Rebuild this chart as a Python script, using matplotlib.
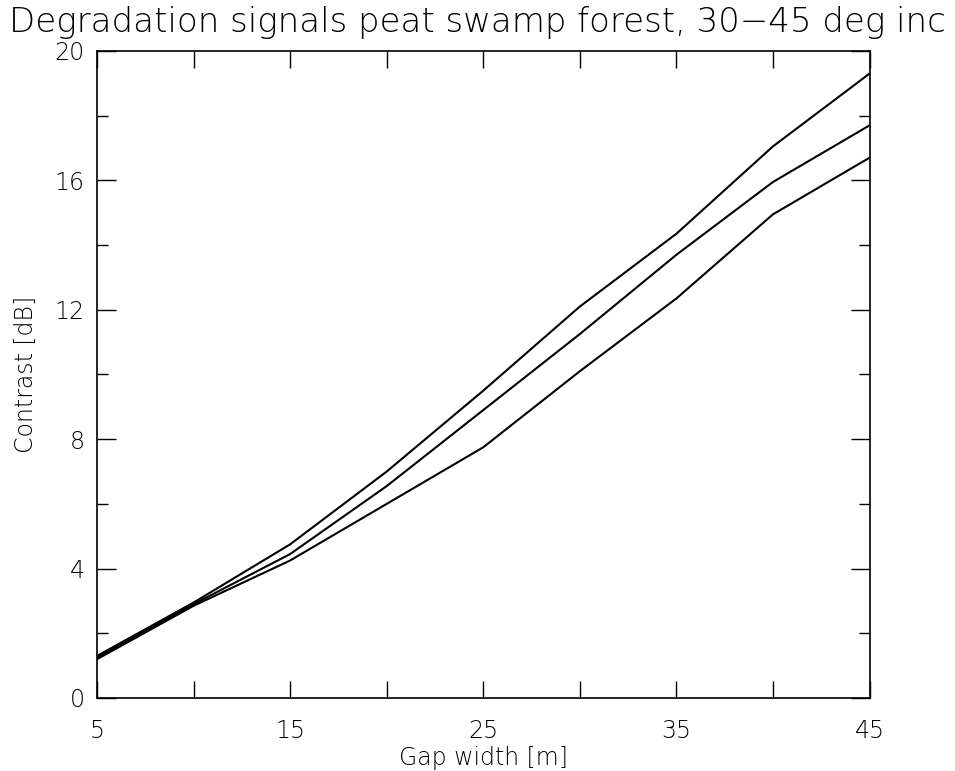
import matplotlib
matplotlib.use("Agg")
import matplotlib.pyplot as plt
from matplotlib.ticker import MultipleLocator, FixedLocator

gap_width = [5, 10, 15, 20, 25, 30, 35, 40, 45]
contrast_high = [1.30, 2.95, 4.75, 7.00, 9.50, 12.10, 14.35, 17.05, 19.30]
contrast_mid = [1.25, 2.90, 4.45, 6.55, 8.90, 11.25, 13.70, 15.95, 17.70]
contrast_low = [1.20, 2.85, 4.25, 6.00, 7.75, 10.10, 12.35, 14.95, 16.70]

plt.rcParams["font.family"] = "DejaVu Sans"

fig = plt.figure(figsize=(9.55, 7.71), dpi=100)
ax = fig.add_axes([0.1016, 0.0947, 0.8089, 0.8392])

for ys in (contrast_high, contrast_mid, contrast_low):
    ax.plot(gap_width, ys, color="black", lw=1.5)

ax.set_xlim(5, 45)
ax.set_ylim(0, 20)
ax.xaxis.set_major_locator(FixedLocator([5, 15, 25, 35, 45]))
ax.xaxis.set_minor_locator(FixedLocator([10, 20, 30, 40]))
ax.yaxis.set_major_locator(MultipleLocator(4))
ax.yaxis.set_minor_locator(MultipleLocator(2))
ax.tick_params(which="both", direction="in", top=True, right=True,
               labelsize=17, width=1, color="black")
ax.tick_params(axis="x", which="both", length=12, pad=15)
ax.tick_params(axis="y", which="major", length=14, pad=9)
ax.tick_params(axis="y", which="minor", length=8)
for lab in ax.get_xticklabels() + ax.get_yticklabels():
    lab.set_fontweight("light")
for s in ax.spines.values():
    s.set_linewidth(1.2)

ax.set_xlabel("Gap width [m]", fontsize=17, fontweight="light", labelpad=2)
ax.set_ylabel("Contrast [dB]", fontsize=17, fontweight="light", labelpad=12)
fig.text(0.5, 0.958, "Degradation signals peat swamp forest, 30\u221245 deg inc",
         ha="center", va="baseline", fontsize=24.5, fontweight="light")

fig.savefig("out.png", dpi=100, facecolor="white")
